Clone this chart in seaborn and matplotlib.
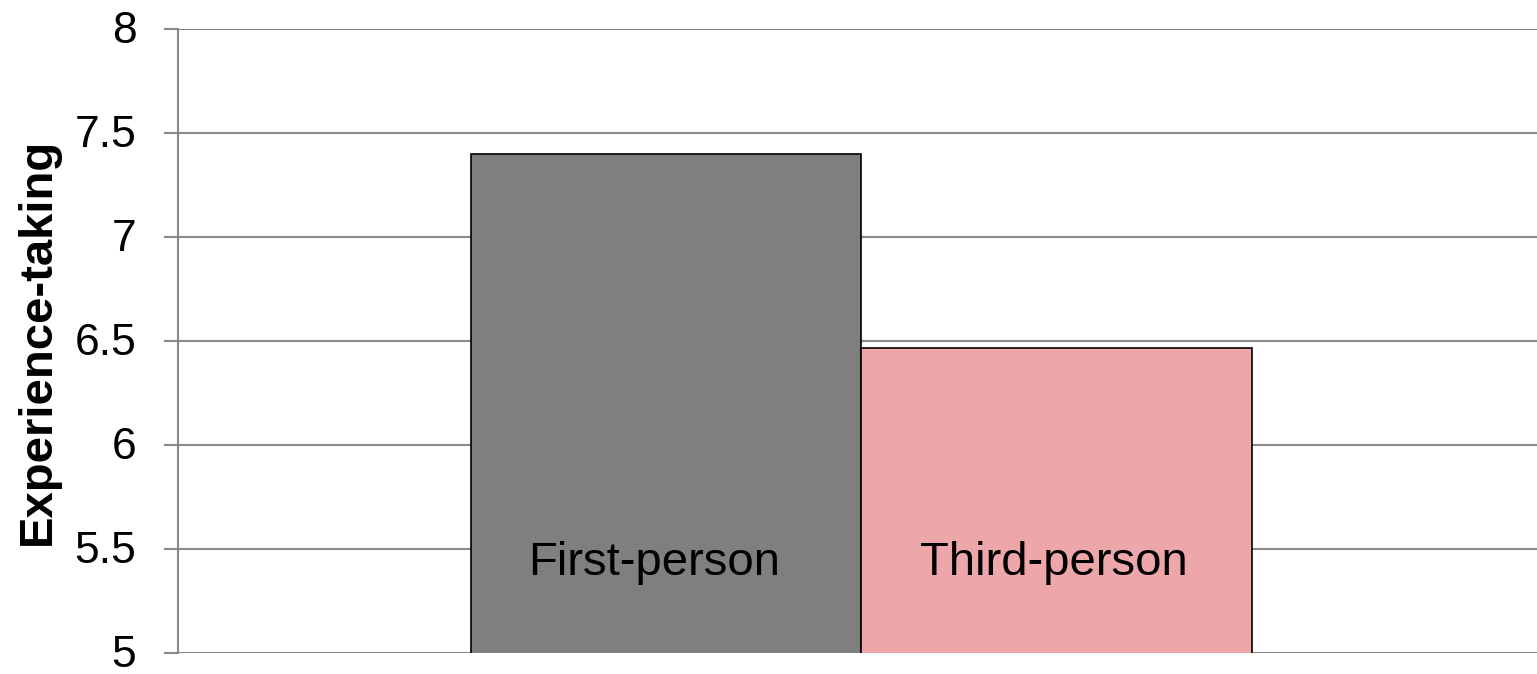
import matplotlib
matplotlib.use("Agg")
import matplotlib.pyplot as plt
import matplotlib.transforms as mtransforms
import seaborn as sns
import pandas as pd

categories = ["First-person", "Third-person"]
values = [7.40, 6.47]
colors = ["#7f7f7f", "#eda7aa"]
yticks = [5, 5.5, 6, 6.5, 7, 7.5, 8]
ytick_labels = ["5", "5.5", "6", "6.5", "7", "7.5", "8"]
ylabel = "Experience-taking"

sns.set_theme(style="white")
plt.rcParams['font.family'] = ['Liberation Sans', 'DejaVu Sans']

df = pd.DataFrame({"cat": categories, "val": values})

fig = plt.figure(figsize=(15.37, 6.74), dpi=100)
ax = fig.add_axes([178/1537, (674-653.3)/674, 1 - 178/1537, (653.3-29.3)/674])

sns.barplot(data=df, x="cat", y="val", hue="cat", palette=colors, width=1.0,
            saturation=1, dodge=False, legend=False, edgecolor="black",
            linewidth=1.2, ax=ax, zorder=3)

ax.set_ylim(5, 8)
ax.set_xlim(-1.25, 2.23)
ax.set_yticks(yticks)
ax.set_yticklabels(ytick_labels)
ax.yaxis.grid(True, color="#898989", linewidth=1.5, zorder=0)
ax.set_axisbelow(True)
ax.set_xticks([])
ax.set_xlabel("")
ax.set_ylabel("")
for s in ["top", "right", "bottom"]:
    ax.spines[s].set_visible(False)
ax.spines["left"].set_color("#898989")
ax.spines["left"].set_linewidth(1.5)
ax.tick_params(axis="y", left=True, length=10, width=1.5, color="#898989",
               labelsize=32, pad=20, labelcolor="black")

shift = mtransforms.ScaledTranslation(0, 2/100, fig.dpi_scale_trans)
for lab in ax.get_yticklabels():
    lab.set_transform(lab.get_transform() + shift)

label_offsets = [-9, -2]
for i, c in enumerate(categories):
    ax.annotate(c, xy=(i, 5.376), xytext=(label_offsets[i], 0), textcoords="offset points",
                ha="center", va="baseline", fontsize=34, color="black", zorder=5)

fig.text(38/1537, 0.5 + ((674-653.3)/674 + (653.3-29.3)/674/2 - 0.5), ylabel,
         rotation=90, ha="center", va="center", fontsize=34, fontweight="bold",
         color="black")

fig.savefig("out.png", dpi=100)
